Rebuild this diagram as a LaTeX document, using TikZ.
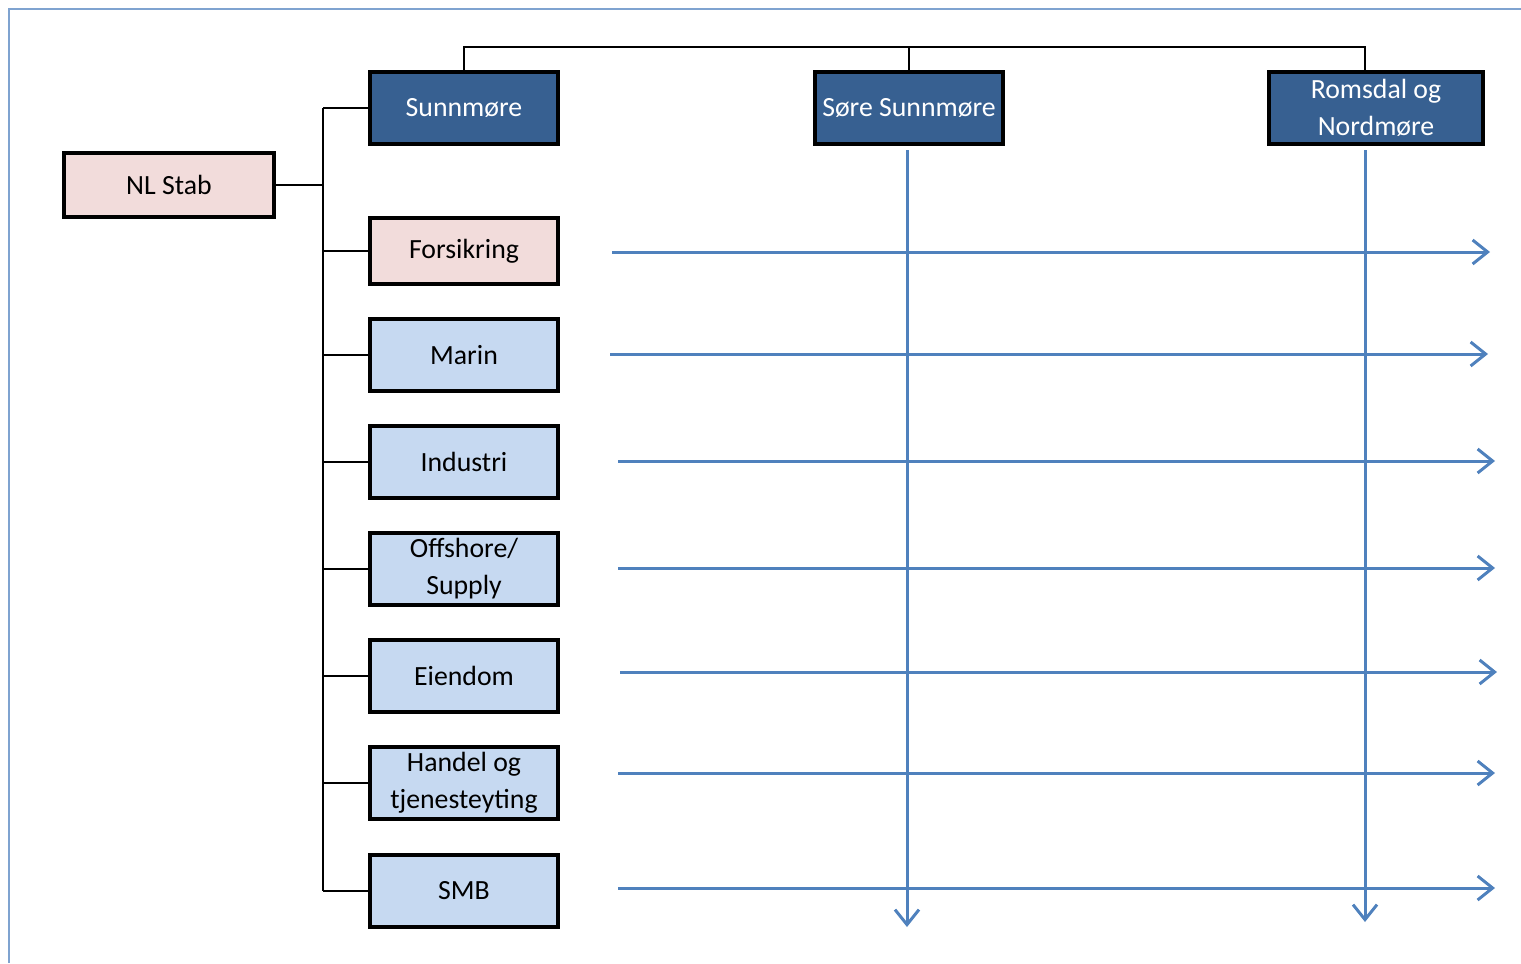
\documentclass[tikz,border=0pt]{standalone}
\usepackage{fontspec}
\setmainfont{Carlito}
\usetikzlibrary{arrows.meta}
\definecolor{region}{HTML}{376091}
\definecolor{staff}{HTML}{F2DCDB}
\definecolor{sector}{HTML}{C6D9F1}
\definecolor{flowblue}{HTML}{4F81BD}
\definecolor{framblue}{HTML}{7FA3D0}
\tikzset{
  unit/.style = {draw, line width=1.15pt, minimum width=1.88cm, minimum height=0.72cm,
                 align=center, inner sep=1pt, font=\fontsize{7.9pt}{10.5pt}\selectfont},
  regbox/.style = {unit, fill=region, text=white},
  staffbox/.style = {unit, fill=staff},
  secbox/.style = {unit, fill=sector},
  link/.style = {line width=0.65pt},
  flow/.style = {flowblue, line width=0.85pt, -{Straight Barb[length=0.15cm,width=0.24cm]}}
}
\begin{document}
\begin{tikzpicture}[x=0.01cm, y=-0.01cm]
		\useasboundingbox (0,0) rectangle (1521,963);
		\draw [framblue, line width=0.55pt] (9,963) -- (9,9) -- (1521,9);

		\node (nl) at (169,185) [staffbox, minimum width=2.1cm, minimum height=0.64cm] {NL Stab};

		\node (sun) at (464,108) [regbox] {Sunnmøre};
		\node (sore) at (909,108) [regbox] {Søre Sunnmøre};
		\node (rom) at (1376,108) [regbox, minimum width=2.13cm] {Romsdal og\\Nordmøre};

		\node (fors) at (464,251) [staffbox, minimum height=0.66cm] {Forsikring};
		\node (marin) at (464,355) [secbox] {Marin};
		\node (ind) at (464,462) [secbox] {Industri};
		\node (off) at (464,569) [secbox] {Offshore/\\Supply};
		\node (eien) at (464,676) [secbox] {Eiendom};
		\node (handel) at (464,783) [secbox] {Handel og\\tjenesteyting};
		\node (smb) at (464,891) [secbox] {SMB};

		% left bracket
		\coordinate (bt) at (323,108);
		\coordinate (bb) at (323,891);
		\draw [link] (bt) -- (bb);
		\draw [link] (nl.east) -- (nl.east -| bt);
		\draw [link] (sun.west) -- (sun.west -| bt);
		\draw [link] (fors.west) -- (fors.west -| bt);
		\draw [link] (marin.west) -- (marin.west -| bt);
		\draw [link] (ind.west) -- (ind.west -| bt);
		\draw [link] (off.west) -- (off.west -| bt);
		\draw [link] (eien.west) -- (eien.west -| bt);
		\draw [link] (handel.west) -- (handel.west -| bt);
		\draw [link] (smb.west) -- (smb.west -| bt);

		% top bracket
		\coordinate (tr) at (1365,47);
		\draw [link] (sun.north) |- (tr) -- (tr |- rom.north);
		\draw [link] (sore.north) -- (sore.north |- tr);

		% regions downwards
		\coordinate (sb) at (907,927);
		\coordinate (rb) at (1365,922);
		\draw [flow] (sb |- sore.south) ++(0,4) -- (sb);
		\draw [flow] (rb |- rom.south) ++(0,4) -- (rb);

		% sectors across
		\coordinate (f1) at (612,252); \coordinate (t1) at (1490,252);
		\coordinate (f2) at (610,354); \coordinate (t2) at (1488,354);
		\coordinate (f3) at (618,461); \coordinate (t3) at (1495,461);
		\coordinate (f4) at (618,568); \coordinate (t4) at (1495,568);
		\coordinate (f5) at (620,672); \coordinate (t5) at (1497,672);
		\coordinate (f6) at (618,773); \coordinate (t6) at (1495,773);
		\coordinate (f7) at (618,888); \coordinate (t7) at (1495,888);
		\draw [flow] (f1) -- (t1);
		\draw [flow] (f2) -- (t2);
		\draw [flow] (f3) -- (t3);
		\draw [flow] (f4) -- (t4);
		\draw [flow] (f5) -- (t5);
		\draw [flow] (f6) -- (t6);
		\draw [flow] (f7) -- (t7);
\end{tikzpicture}
\end{document}
